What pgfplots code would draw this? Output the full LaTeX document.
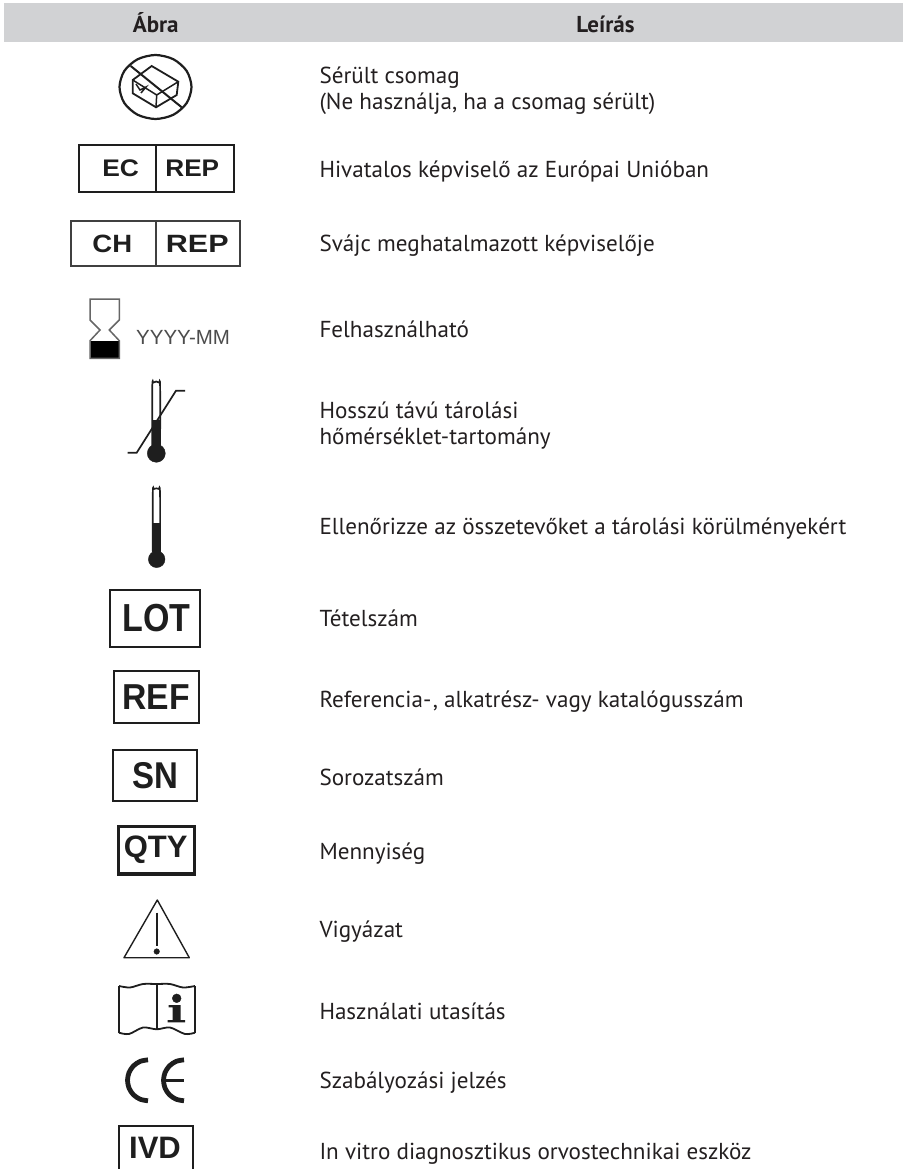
\documentclass[border=0pt]{standalone}
\usepackage{fontspec}
\usepackage{graphicx}
\usepackage{pgfplots}
\pgfplotsset{compat=1.18}
\setmainfont{PT Sans}
\newfontfamily\arial{Liberation Sans}
\definecolor{hdr}{HTML}{D1D2D4}
\definecolor{ink}{HTML}{231F20}
\definecolor{sym}{HTML}{1E1E1E}
\newcommand{\row}[2]{\node[anchor=base west,inner sep=0pt,text=ink,font=\fontsize{23.1}{25}\selectfont] at (axis cs:319.3,#1) {#2};}
\newcommand{\lab}[6]{\node[inner sep=0pt,anchor=center,text=sym,font=\arial\bfseries\fontsize{#3}{#3}\selectfont] at (axis cs:#1,#2) {\scalebox{#4}[#5]{#6}};}
\begin{document}
\begin{tikzpicture}[x=1pt,y=1pt]
\path[use as bounding box] (0,0) rectangle (903,1169);
\begin{axis}[at={(0,0)},anchor=south west,scale only axis,width=903pt,height=1169pt,
 xmin=0,xmax=903,ymin=0,ymax=1169,y dir=reverse,hide axis,clip=false]
% header
\addplot[fill=hdr,draw=none] coordinates {(4,3.3)(903,3.3)(903,42.3)(4,42.3)} --cycle;
\node[inner sep=0pt,anchor=base,text=ink,font=\bfseries\fontsize{23}{24}\selectfont] at (axis cs:155.7,32.3) {Ábra};
\node[inner sep=0pt,anchor=base,text=ink,font=\bfseries\fontsize{23}{24}\selectfont] at (axis cs:605.5,32.3) {Leírás};
% damaged package
\addplot[sym,line width=2.2pt,smooth cycle] coordinates {(155.5,55)(173.5,59.3)(186.7,71)(191.5,87)(186.7,103)(173.5,114.7)(155.5,119)(137.5,114.7)(124.3,103)(119.5,87)(124.3,71)(137.5,59.3)};
\addplot[sym,line width=2pt] coordinates {(130.7,66)(181.7,107.3)};
\addplot[sym,line width=1.8pt] coordinates {(151.7,66)(178.3,81.7)(176.7,95)(156,107.3)(132.7,93.3)(132.7,80)} --cycle;
\addplot[sym,line width=1.5pt] coordinates {(132.7,80)(156.7,95)(178.3,81.7)};
\addplot[sym,line width=1.5pt] coordinates {(156.7,95)(156,107.3)};
\addplot[sym,line width=1.5pt] coordinates {(136,84)(140,90)(146,87)(141,93)};
% EC REP
\addplot[sym,line width=2.1pt] coordinates {(78.7,144.7)(233.7,144.7)(233.7,192.3)(78.7,192.3)} --cycle;
\addplot[sym,line width=1.8pt] coordinates {(155.7,144.7)(155.7,192.3)};
\lab{120.7}{168}{24}{1.1}{1.0}{EC}
\lab{192.3}{168}{24}{1.09}{1.0}{REP}
% CH REP
\addplot[sym!85!white,line width=1.7pt] coordinates {(71.3,221.3)(240,221.3)(240,265.7)(71.3,265.7)} --cycle;
\addplot[sym!85!white,line width=1.7pt] coordinates {(156,221.3)(156,265.7)};
\lab{112.3}{244.3}{25}{1.1}{1.0}{CH}
\lab{197.3}{244.3}{25}{1.22}{1.0}{REP}
% hourglass
\addplot[fill=black,draw=none] coordinates {(90,341)(119.3,341)(119.3,358.3)(90,358.3)} --cycle;
\addplot[black!60,line width=1.5pt] coordinates {(90,299)(119.3,299)(119.3,320)(109.3,330)(119.3,340.7)(119.3,358.3)(90,358.3)(90,340.7)(100,330)(90,320)} --cycle;
\node[inner sep=0pt,anchor=base west,text=black!70,font=\arial\fontsize{20.5}{21}\selectfont] at (axis cs:136,344.5) {YYYY-MM};
% thermometer with limits
\addplot[fill=sym,draw=none] coordinates {(152.5,420)(160,420)(160,450)(152.5,450)} --cycle;
\addplot[sym,line width=1.7pt,smooth] coordinates {(152.3,448)(152.3,386)(153.5,382.5)(156.2,381.5)(158.9,382.5)(160.1,386)(160.1,448)};
\addplot[only marks,mark=*,mark size=9pt,sym] coordinates {(156.3,453.3)};
\addplot[sym,line width=1.7pt] coordinates {(127.7,452.7)(136.7,452.7)(176,390.7)(185,390.7)};
% thermometer
\addplot[fill=sym,draw=none] coordinates {(153,523)(160,523)(160,555)(153,555)} --cycle;
\addplot[sym,line width=1.6pt,smooth] coordinates {(152.8,552)(152.8,492)(154,489)(156.4,488.3)(158.8,489)(160,492)(160,552)};
\addplot[only marks,mark=*,mark size=8.3pt,sym] coordinates {(156.7,559.3)};
% LOT
\addplot[sym,line width=2.2pt] coordinates {(110.3,590)(200.3,590)(200.3,646.7)(110.3,646.7)} --cycle;
\lab{156.7}{618.3}{34}{1.0}{1.15}{LOT}
% REF
\addplot[sym,line width=1.9pt] coordinates {(114,671)(198.7,671)(198.7,723.3)(114,723.3)} --cycle;
\lab{156}{697.3}{33.7}{1.0}{1.07}{REF}
% SN
\addplot[sym,line width=1.9pt] coordinates {(113,750)(196.7,750)(196.7,801.3)(113,801.3)} --cycle;
\lab{155}{775.7}{33}{1.0}{1.13}{SN}
% QTY
\addplot[sym,line width=3.1pt] coordinates {(118.3,826.7)(194.3,826.7)(194.3,874)(118.3,874)} --cycle;
\lab{155.7}{850}{31}{1.0}{1.0}{QTY}
% caution
\addplot[sym,line width=1.4pt,line join=round] coordinates {(157.3,900)(189.3,957.7)(124,957.7)} --cycle;
\addplot[sym,line width=2.4pt] coordinates {(156.7,912.7)(156.7,946)};
\addplot[only marks,mark=*,mark size=2.8pt,sym] coordinates {(156.7,951.5)};
% book
\addplot[sym,line width=1.8pt,smooth] coordinates {(119,986)(130,987.5)(143,984)(156.7,984)(170,984)(183,987.5)(195,986)};
\addplot[sym,line width=1.8pt,smooth] coordinates {(119,1032.7)(129,1034)(143,1027.5)(156.7,1029.3)(170,1027.5)(185,1034)(195,1032.7)};
\addplot[sym,line width=1.8pt] coordinates {(119,986)(119,1032.7)};
\addplot[sym,line width=1.8pt] coordinates {(195,986)(195,1032.7)};
\addplot[sym,line width=2pt] coordinates {(156.7,984)(156.7,1029.3)};
\addplot[only marks,mark=*,mark size=4.4pt,sym] coordinates {(176.7,998.3)};
\addplot[fill=sym,draw=none] coordinates {(168.5,1005)(180.7,1005)(180.7,1020)(185,1020)(185,1022.3)(167.7,1022.3)(167.7,1020)(172.5,1020)(172.5,1007.3)(168.5,1007.3)} --cycle;
% CE
\addplot[sym,line width=4.8pt,smooth] coordinates {(148,1059.8)(140.15,1061.36)(133.5,1065.8)(129.06,1072.45)(127.5,1080.3)(129.06,1088.15)(133.5,1094.8)(140.15,1099.24)(148,1100.8)};
\addplot[sym,line width=4.8pt,smooth] coordinates {(184,1059.8)(176.15,1061.36)(169.5,1065.8)(165.06,1072.45)(163.5,1080.3)(165.06,1088.15)(169.5,1094.8)(176.15,1099.24)(184,1100.8)};
\addplot[sym,line width=3.2pt] coordinates {(165,1080.3)(184,1080.3)};
% IVD
\addplot[sym,line width=2pt] coordinates {(119,1169)(119,1125.5)(192.7,1125.5)(192.7,1169)};
\lab{155}{1148.3}{31}{1.0}{1.0}{IVD}
% text
\row{83.3}{Sérült csomag}
\row{110}{(Ne használja, ha a csomag sérült)}
\row{177.3}{Hivatalos képviselő az Európai Unióban}
\row{251}{Svájc meghatalmazott képviselője}
\row{337.3}{Felhasználható}
\row{418.3}{Hosszú távú tárolási}
\row{444}{hőmérséklet-tartomány}
\row{534.5}{Ellenőrizze az összetevőket a tárolási körülményekért}
\row{626.7}{Tételszám}
\row{707.3}{Referencia-\kern1.5pt, alkatrész- vagy katalógusszám}
\row{785}{Sorozatszám}
\row{859.3}{Mennyiség}
\row{937}{Vigyázat}
\row{1019}{Használati utasítás}
\row{1088}{Szabályozási jelzés}
\row{1159}{In vitro diagnosztikus orvostechnikai eszköz}
\end{axis}
\end{tikzpicture}
\end{document}
